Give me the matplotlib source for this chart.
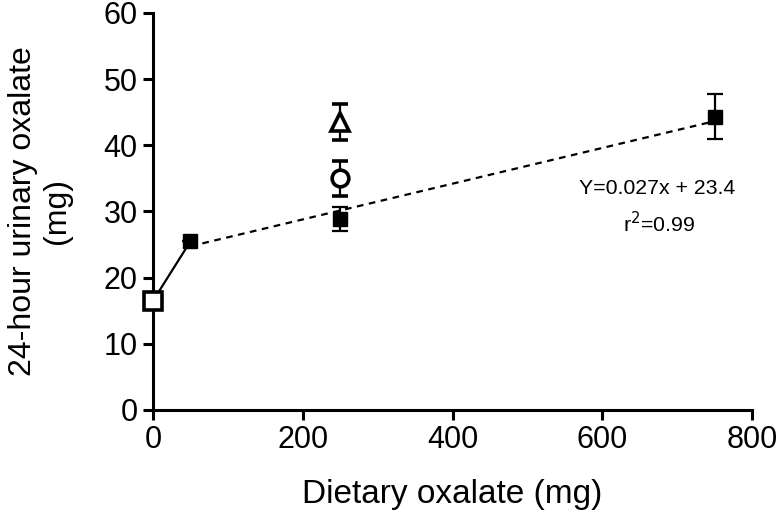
import matplotlib
matplotlib.use("Agg")
import matplotlib.pyplot as plt
import numpy as np

plt.rcParams['font.family'] = ['Liberation Sans', 'DejaVu Sans']

# Data
base_x = [0]
base_y = [16.5]
diet_x = [50, 250, 750]
diet_y = [25.5, 28.9, 44.3]
diet_err = [0.0, 1.8, 3.4]
circle_x = [250]
circle_y = [35.0]
circle_err = [2.7]
tri_x = [250]
tri_y = [43.5]
tri_err = [2.7]
slope, intercept = 0.027, 23.4
fit_x = [50, 750]

fig = plt.figure(figsize=(7.78, 5.18), dpi=100)
ax = fig.add_axes([0.1967, 0.2085, 0.77, 0.7665])

# solid connecting line from baseline to first diet point
ax.plot([base_x[0], diet_x[0]], [base_y[0], diet_y[0]], color='black', lw=1.6, zorder=2)
# regression dashed line
fx = np.array(fit_x)
ax.plot(fx, slope * fx + intercept, color='black', lw=1.6, ls=(0, (3, 2.5)), zorder=2)

ekw = dict(ecolor='black', elinewidth=1.6, capsize=6, capthick=1.6, ls='none')
ax.errorbar(diet_x, diet_y, yerr=diet_err, fmt='s', color='black', ms=9.5, zorder=3, **ekw)
ax.errorbar(circle_x, circle_y, yerr=circle_err, fmt='o', mfc='white', mec='black',
            mew=2.6, ms=12, zorder=3, **ekw)
ax.errorbar(tri_x, tri_y, yerr=tri_err, fmt='^', mfc='white', mec='black',
            mew=2.6, ms=13.5, zorder=3, **ekw)
ax.plot(base_x, base_y, 's', mfc='white', mec='black', mew=2.6, ms=13, zorder=4, clip_on=False)

ax.set_xlim(0, 800)
ax.set_ylim(0, 60)
ax.set_xticks([0, 200, 400, 600, 800])
ax.set_yticks([0, 10, 20, 30, 40, 50, 60])

for s in ['top', 'right']:
    ax.spines[s].set_visible(False)
for s in ['left', 'bottom']:
    ax.spines[s].set_linewidth(2.2)
ax.tick_params(axis='both', direction='out', length=7, width=2.2, labelsize=22, pad=4)

ax.set_xlabel('Dietary oxalate (mg)', fontsize=24, labelpad=17)
ax.set_ylabel('24-hour urinary oxalate\n(mg)', fontsize=23, labelpad=23, linespacing=1.15)

ax.text(673, 33.5, 'Y=0.027x + 23.4', fontsize=15.3, ha='center', va='center')
ax.text(676, 28.1, r'r$^2$=0.99', fontsize=15.3, ha='center', va='center')

fig.savefig('out.png', dpi=100)
